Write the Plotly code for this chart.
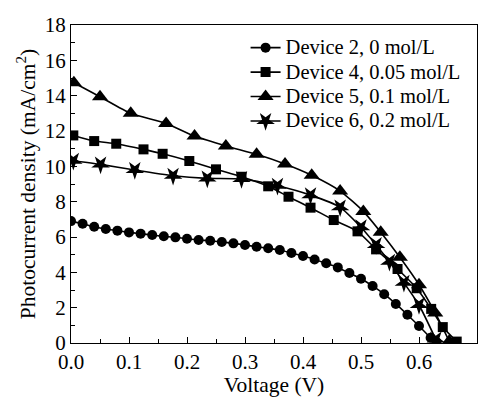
import plotly.graph_objects as go

# Device 2, 0 mol/L (circles)
v2 = [0.00, 0.02, 0.04, 0.06, 0.08, 0.10, 0.12, 0.14, 0.16, 0.18, 0.20, 0.22, 0.24, 0.26, 0.28,
      0.30, 0.32, 0.34, 0.36, 0.38, 0.40, 0.42, 0.44, 0.46, 0.48, 0.50, 0.52, 0.54, 0.56, 0.58,
      0.60, 0.62, 0.63]
j2 = [6.90, 6.75, 6.58, 6.45, 6.36, 6.26, 6.19, 6.11, 6.04, 5.98, 5.90, 5.83, 5.79, 5.72, 5.64,
      5.55, 5.45, 5.36, 5.26, 5.09, 4.92, 4.73, 4.51, 4.28, 3.96, 3.64, 3.23, 2.76, 2.21, 1.60,
      0.96, 0.30, 0.05]

# Device 4, 0.05 mol/L (squares)
v4 = [0.004, 0.04, 0.078, 0.125, 0.158, 0.204, 0.25, 0.294, 0.34, 0.375, 0.413, 0.453, 0.494,
      0.526, 0.563, 0.596, 0.621, 0.641, 0.665]
j4 = [11.75, 11.43, 11.28, 10.96, 10.71, 10.30, 9.83, 9.41, 8.87, 8.28, 7.66, 6.96, 6.32,
      5.30, 4.19, 3.10, 1.93, 0.90, 0.08]

# Device 5, 0.1 mol/L (triangles)
v5 = [0.005, 0.05, 0.103, 0.164, 0.213, 0.267, 0.32, 0.369, 0.415, 0.464, 0.504, 0.534, 0.567,
      0.600, 0.628, 0.652]
j5 = [14.73, 13.94, 13.00, 12.43, 11.71, 11.15, 10.68, 10.13, 9.49, 8.60, 7.45, 6.27, 4.85,
      3.30, 1.70, 0.10]

# Device 6, 0.2 mol/L (stars)
v6 = [0.004, 0.051, 0.11, 0.176, 0.235, 0.294, 0.356, 0.413, 0.464, 0.50, 0.526, 0.549, 0.574,
      0.60, 0.629]
j6 = [10.32, 10.11, 9.79, 9.47, 9.32, 9.28, 8.90, 8.37, 7.68, 6.55, 5.55, 4.60, 3.41, 2.15, 0.20]

names = ["Device 2, 0 mol/L", "Device 4, 0.05 mol/L", "Device 5, 0.1 mol/L", "Device 6, 0.2 mol/L"]

fig = go.Figure()
series = [(v2, j2, "circle", 10, 0), (v4, j4, "square", 10, 0), (v5, j5, "triangle-up", 14, 0),
          (v6, j6, "star", 14, 180)]
for (x, y, sym, sz, ang), nm in zip(series, names):
    fig.add_trace(go.Scatter(
        x=x, y=y, name='<span style="font-size:20.5px">' + nm + '</span>', mode="lines+markers",
        line=dict(color="black", width=1.6, shape="spline", smoothing=0.6),
        marker=dict(symbol=sym, size=sz, color="black", angle=ang),
    ))

font = "Liberation Serif, Times New Roman, serif"
axis_common = dict(
    showgrid=False, zeroline=False, showline=True, linecolor="black", linewidth=1.2,
    mirror=True, ticks="inside", ticklen=6, tickwidth=1.2, tickcolor="black",
    tickfont=dict(family=font, size=21, color="black"), automargin=False,
)
fig.update_xaxes(range=[0, 0.7], dtick=0.1, tickformat=".1f",
                 minor=dict(dtick=0.05, ticks="inside", ticklen=4, tickcolor="black", tickwidth=1.2),
                 title=dict(text="Voltage (V)", font=dict(family=font, size=21.5, color="black"), standoff=6),
                 **axis_common)
fig.update_yaxes(range=[0, 18], dtick=2,
                 minor=dict(dtick=1, ticks="inside", ticklen=4, tickcolor="black", tickwidth=1.2),
                 title=dict(text="Photocurrent density (mA/cm<sup>2</sup>)",
                            font=dict(family=font, size=21.5, color="black"), standoff=3),
                 **axis_common)
fig.update_layout(
    width=489, height=397,
    margin=dict(l=71, r=12, t=25, b=54),
    plot_bgcolor="white", paper_bgcolor="white",
    font=dict(family=font, color="black"),
    legend=dict(x=0.43, y=0.983, xanchor="left", yanchor="top", bgcolor="rgba(0,0,0,0)",
                font=dict(family=font, size=16.5, color="black"), tracegroupgap=0),
    showlegend=True,
)
fig.write_html("out.html", config={"displayModeBar": False},
               post_script="document.body.style.margin='0';document.body.style.overflow='hidden';")
